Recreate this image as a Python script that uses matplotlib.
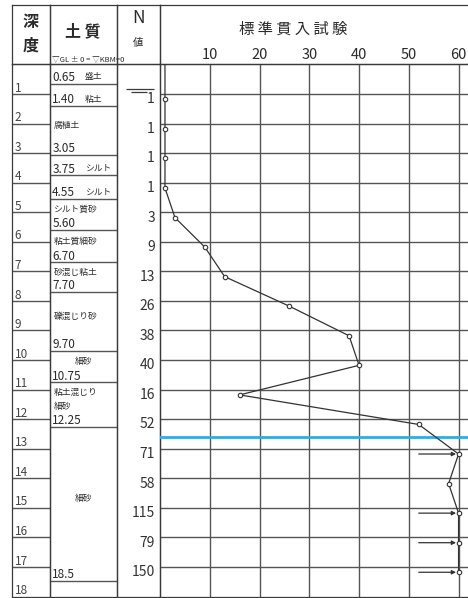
import numpy as np
import matplotlib.pyplot as plt

plt.rcParams['font.family'] = ['Noto Sans CJK JP', 'DejaVu Sans']

# depth scale (m)
depth_labels = list(range(1, 19))
depth_max = 18

# soil layers: bottom depth, printed depth, soil name
layer_bottom = [0.65, 1.40, 3.05, 3.75, 4.55, 5.60, 6.70, 7.70, 9.70, 10.75, 12.25, 18.5]
layer_text = ["0.65", "1.40", "3.05", "3.75", "4.55", "5.60", "6.70", "7.70",
              "9.70", "10.75", "12.25", "18.5"]
soil_name = ["盛土", "粘土", "腐植土", "シルト", "シルト", "シルト質砂", "粘土質細砂",
             "砂混じ粘土", "礫混じり砂", "細砂", "粘土混じり\n細砂", "細砂"]

# standard penetration test
spt_depth = [1.18, 2.18, 3.18, 4.18, 5.18, 6.18, 7.18, 8.18, 9.18, 10.18,
             11.18, 12.18, 13.18, 14.18, 15.18, 16.18, 17.18]
n_value = [1, 1, 1, 1, 3, 9, 13, 26, 38, 40, 16, 52, 71, 58, 115, 79, 150]
n_ticks = [10, 20, 30, 40, 50, 60]
n_cap = 60

water_level = 0.83     # groundwater mark in N column
blue_level = 12.6      # blue line across the SPT column

W, H = 468, 598
fig = plt.figure(figsize=(W / 100, H / 100), dpi=100)
fig.patch.set_facecolor('white')

cols = [12, 49.5, 117, 160, 470]
top, head, bot = 5, 64.4, 596.5
line_c = '#3a3a3a'
grid_c = '#555555'
text_c = '#2a2a2a'


def px_axes(x0, x1, y0, y1):
    ax = fig.add_axes([x0 / W, 1 - y1 / H, (x1 - x0) / W, (y1 - y0) / H])
    ax.set_xticks([])
    ax.set_yticks([])
    ax.patch.set_alpha(0)
    for s in ax.spines.values():
        s.set_color(line_c)
        s.set_linewidth(0.9)
    return ax


# header cells
hd = [px_axes(cols[i], cols[i + 1], top, head) for i in range(4)]
for h in hd:
    h.set_xlim(0, 1)
    h.set_ylim(0, 1)
hd[3].spines['right'].set_visible(False)

hd[0].text(0.5, 0.72, "深", ha='center', va='center', fontsize=11.5, color=text_c, weight='bold')
hd[0].text(0.5, 0.32, "度", ha='center', va='center', fontsize=11.5, color=text_c, weight='bold')
hd[1].text(0.5, 0.55, "土 質", ha='center', va='center', fontsize=11.5, color=text_c, weight='bold')
hd[1].text(0.03, 0.02, "▽GL ± 0 = ▽KBM=0", ha='left', va='bottom', fontsize=5.5, color=text_c,
           clip_on=False, zorder=5)
hd[2].text(0.5, 0.78, "N", ha='center', va='center', fontsize=12.5, color=text_c)
hd[2].text(0.5, 0.36, "値", ha='center', va='center', fontsize=7.5, color=text_c)
hd[3].text(0.43, 0.6, "標 準 貫 入 試 験", ha='center', va='center', fontsize=11,
           color=text_c)

# body cells
ax_d = px_axes(cols[0], cols[1], head, bot)
ax_s = px_axes(cols[1], cols[2], head, bot)
ax_n = px_axes(cols[2], cols[3], head, bot)
ax_p = px_axes(cols[3], cols[4], head, bot)
ax_p.spines['right'].set_visible(False)
for ax in (ax_d, ax_s, ax_n, ax_p):
    ax.set_ylim(depth_max, 0)
for ax in (ax_d, ax_s, ax_n):
    ax.set_xlim(0, 1)

# depth column
for d in depth_labels:
    if d < depth_max:
        ax_d.axhline(d, color=grid_c, lw=1.0)
    ax_d.text(0.07, d - 0.08, str(d), ha='left', va='baseline', fontsize=8.5, color='#444444')

# soil column
layer_top = [0] + layer_bottom[:-1]
for i, (t, b) in enumerate(zip(layer_top, layer_bottom)):
    b_draw = min(b, 17.47)  # last boundary is drawn short of the bottom edge
    ax_s.axhline(b_draw, color=grid_c, lw=1.0)
    ax_s.text(0.04, b_draw - 0.09, layer_text[i], ha='left', va='baseline',
              fontsize=8.5, color=text_c)
    name = soil_name[i]
    if b_draw - t < 0.9:
        ax_s.text(0.52, b_draw - 0.14, name, ha='left', va='baseline',
                  fontsize=6.3, color=text_c, clip_on=True)
    else:
        y = (t + b_draw - 0.35) / 2
        if len(name) <= 2:
            ax_s.text(0.5, y, name, ha='center', va='center', fontsize=6.3, color=text_c)
        else:
            ax_s.text(0.06, y, name, ha='left', va='center', fontsize=6.3, color=text_c,
                      linespacing=1.7)

# N column
for d, n in zip(spt_depth, n_value):
    ax_n.text(0.88, d, str(n), ha='right', va='center', fontsize=10, color='#333333')
ax_n.hlines([water_level, water_level + 0.12], [0.22, 0.32], [0.86, 0.7],
            color=line_c, lw=0.9)

# SPT plot
ax_p.set_xlim(0, 62.3)
for x in n_ticks:
    ax_p.axvline(x, color=grid_c, lw=1.0, zorder=1)
for d in range(1, depth_max):
    ax_p.axhline(d, color=grid_c, lw=1.0, zorder=1)
ax_p.axhline(blue_level, color='#1fb2ec', lw=2.0, zorder=3)

n_plot = np.minimum(n_value, n_cap)
ax_p.plot([n_plot[0]] + list(n_plot), [0] + spt_depth, color='#333333', lw=0.9, zorder=4)
ax_p.plot(n_plot, spt_depth, 'o', ms=3.2, mfc='white', mec='#333333', mew=0.8, zorder=5)
for d, n in zip(spt_depth, n_value):
    if n > n_cap:
        ax_p.annotate('', xy=(n_cap - 0.5, d), xytext=(52, d),
                      arrowprops=dict(arrowstyle='-|>', color='#333333', lw=0.9,
                                      mutation_scale=6, shrinkA=0, shrinkB=0),
                      zorder=6)

ax_p.xaxis.set_ticks_position('top')
ax_p.set_xticks(n_ticks)
ax_p.set_xticklabels([str(t) for t in n_ticks], fontsize=10.5, color=text_c)
ax_p.tick_params(axis='x', length=0, pad=2)

fig.savefig('out.png', dpi=100)
